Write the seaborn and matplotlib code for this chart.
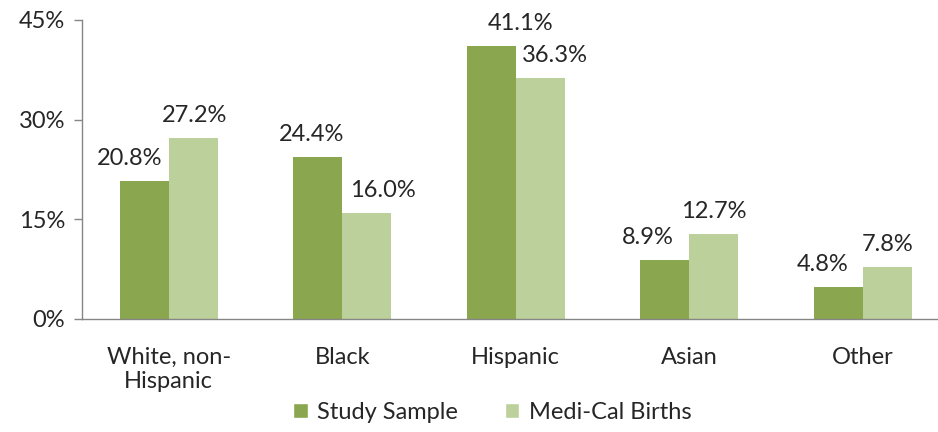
import pandas as pd
import matplotlib.pyplot as plt
import seaborn as sns
from matplotlib.ticker import FixedLocator
from matplotlib.patches import Patch

categories = ['White, non-\nHispanic', 'Black', 'Hispanic', 'Asian', 'Other']
study_sample = [20.8, 24.4, 41.1, 8.9, 4.8]
medical_births = [27.2, 16.0, 36.3, 12.7, 7.8]
series = ['Study Sample', 'Medi-Cal Births']
colors = ['#8AA64F', '#BBD09A']

# horizontal nudges (pixels) of the data labels, as placed in the original chart
label_shift = [[-15, -6, 29, -17, -16], [1, 16, 15, 0, 0]]

df = pd.DataFrame({
    'group': categories * 2,
    'series': [series[0]] * 5 + [series[1]] * 5,
    'pct': study_sample + medical_births,
})

sns.set_style('white')
plt.rcParams['font.family'] = ['Lato', 'DejaVu Sans']
fs = 17

fig = plt.figure(figsize=(9.38, 4.32), dpi=100)
ax = fig.add_axes([0.0874, 0.262, 0.925, 0.692])

sns.barplot(data=df, x='group', y='pct', hue='series', palette=colors,
            width=0.565, saturation=1, linewidth=0, ax=ax, legend=False)

for shifts, container in zip(label_shift, ax.containers):
    for dx, bar in zip(shifts, container):
        h = bar.get_height()
        ax.annotate(f'{h:.1f}%', (bar.get_x() + bar.get_width() / 2, h),
                    xytext=(dx, 12), textcoords='offset pixels',
                    ha='center', va='bottom', fontsize=fs)

ax.set_ylim(0, 45)
ax.set_xlim(-0.5, 4.5)
ax.set_yticks([0, 15, 30, 45])
ax.set_yticklabels(['0%', '15%', '30%', '45%'], fontsize=fs)
ax.tick_params(axis='x', which='major', length=0, labelsize=fs, pad=20)
ax.xaxis.set_minor_locator(FixedLocator([-0.5, 0.5, 1.5, 2.5, 3.5, 4.5]))
ax.tick_params(axis='x', which='minor', length=6, color='#868686', width=1)
ax.tick_params(axis='y', length=6, color='#868686', width=1, left=True, pad=6)
ax.set_xlabel('')
ax.set_ylabel('')

for side in ['top', 'right']:
    ax.spines[side].set_visible(False)
for side in ['left', 'bottom']:
    ax.spines[side].set_color('#868686')
    ax.spines[side].set_linewidth(1)

handles = [Patch(facecolor=c, label=s) for c, s in zip(colors, series)]
fig.legend(handles=handles, loc='center', bbox_to_anchor=(0.525, 0.045), ncol=2,
           frameon=False, fontsize=fs, handlelength=0.6, handleheight=0.6,
           handletextpad=0.4, columnspacing=2.0)

fig.savefig('out.png', dpi=100)
